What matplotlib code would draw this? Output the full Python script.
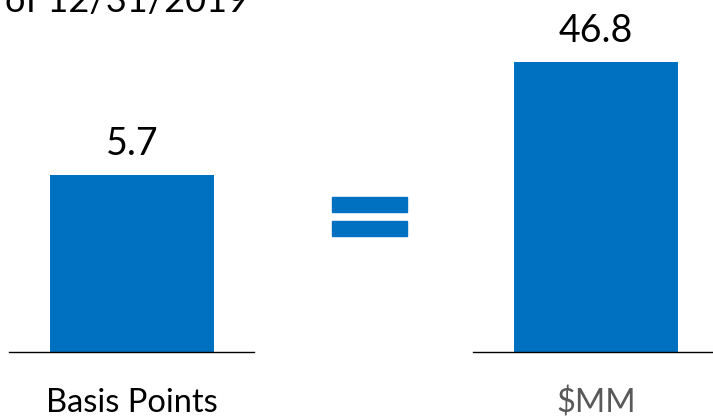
import matplotlib.pyplot as plt
from matplotlib.patches import Rectangle

plt.rcParams['font.family'] = ['Lato', 'DejaVu Sans']

categories = ["Basis Points", "$MM"]
values = [5.7, 46.8]
label_colors = ["#000000", "#595959"]
heading = "of 12/31/2019"

bar_color = "#0070C0"
W, H = 713, 417
fig = plt.figure(figsize=(W / 100, H / 100), dpi=100)

# each panel gets its own scale; (left px, width px, bar height px)
panels = [(9, 245, 177), (473, 240, 290)]
base_y = 352  # baseline, px from top

for (left, width, bar_px), cat, val, lc in zip(panels, categories, values, label_colors):
    ax = fig.add_axes([left / W, (H - base_y) / H, width / W, base_y / H])
    ax.bar([0], [val], width=1.0, color=bar_color)
    off = 41 / 164
    ax.set_xlim(-0.5 - off, -0.5 - off + width / 164)
    ax.set_ylim(0, val * base_y / bar_px)
    for s in ["top", "left", "right"]:
        ax.spines[s].set_visible(False)
    ax.spines["bottom"].set_color("black")
    ax.spines["bottom"].set_linewidth(1.0)
    ax.set_xticks([])
    ax.set_yticks([])
    ax.patch.set_alpha(0)
    ax.annotate(f"{val}", (0, val), xytext=(0, 14.4), textcoords="offset points",
                ha="center", va="baseline", fontsize=27, color="black")
    ax.annotate(cat, (0, 0), xytext=(0, -43.5), textcoords="offset points",
                ha="center", va="baseline", fontsize=23.5, color=lc)

# equals sign between the two panels
for top, bot in [(197, 212), (221, 236)]:
    fig.patches.append(Rectangle((332 / W, 1 - bot / H), 75 / W, (bot - top) / H,
                                 transform=fig.transFigure, color=bar_color))

fig.text(5 / W, 1 - 12 / H, heading, ha="left", va="baseline", fontsize=26)

fig.savefig("out.png", dpi=100)
